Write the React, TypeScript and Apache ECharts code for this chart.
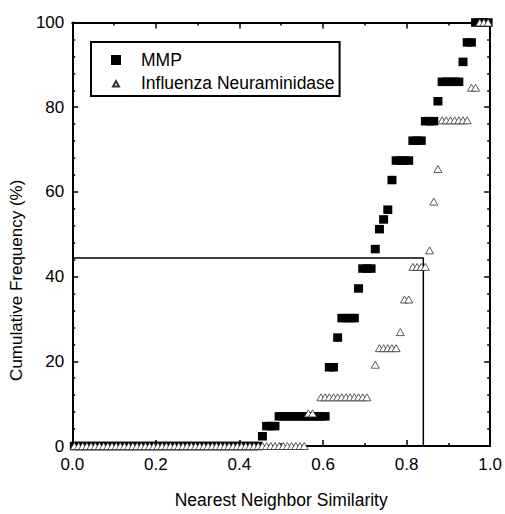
import { useEffect, useRef } from "react";
import * as echarts from "echarts";

// Bin centres of nearest-neighbour similarity (x)
const similarity = [
  0.005, 0.015, 0.025, 0.035, 0.045, 0.055, 0.065, 0.075, 0.085, 0.095,
  0.105, 0.115, 0.125, 0.135, 0.145, 0.155, 0.165, 0.175, 0.185, 0.195,
  0.205, 0.215, 0.225, 0.235, 0.245, 0.255, 0.265, 0.275, 0.285, 0.295,
  0.305, 0.315, 0.325, 0.335, 0.345, 0.355, 0.365, 0.375, 0.385, 0.395,
  0.405, 0.415, 0.425, 0.435, 0.445, 0.455, 0.465, 0.475, 0.485, 0.495,
  0.505, 0.515, 0.525, 0.535, 0.545, 0.555, 0.565, 0.575, 0.585, 0.595,
  0.605, 0.615, 0.625, 0.635, 0.645, 0.655, 0.665, 0.675, 0.685, 0.695,
  0.705, 0.715, 0.725, 0.735, 0.745, 0.755, 0.765, 0.775, 0.785, 0.795,
  0.805, 0.815, 0.825, 0.835, 0.845, 0.855, 0.865, 0.875, 0.885, 0.895,
  0.905, 0.915, 0.925, 0.935, 0.945, 0.955, 0.965, 0.975, 0.985, 0.995,
];

// Cumulative frequency (%) – MMP
const mmpFreq = [
  0, 0, 0, 0, 0, 0, 0, 0, 0, 0,
  0, 0, 0, 0, 0, 0, 0, 0, 0, 0,
  0, 0, 0, 0, 0, 0, 0, 0, 0, 0,
  0, 0, 0, 0, 0, 0, 0, 0, 0, 0,
  0, 0, 0, 0, 0, 2.3, 4.7, 4.7, 4.7, 7.0,
  7.0, 7.0, 7.0, 7.0, 7.0, 7.0, 7.0, 7.0, 7.0, 7.0,
  7.0, 18.6, 18.6, 25.6, 30.2, 30.2, 30.2, 30.2, 37.2, 41.9,
  41.9, 41.9, 46.5, 51.2, 53.5, 55.8, 62.8, 67.4, 67.4, 67.4,
  67.4, 72.1, 72.1, 72.1, 76.7, 76.7, 76.7, 81.4, 86.0, 86.0,
  86.0, 86.0, 86.0, 90.7, 95.3, 95.3, 100, 100, 100, 100,
];

// Cumulative frequency (%) – Influenza Neuraminidase (null = no point)
const fluFreq = [
  0, 0, 0, 0, 0, 0, 0, 0, 0, 0,
  0, 0, 0, 0, 0, 0, 0, 0, 0, 0,
  0, 0, 0, 0, 0, 0, 0, 0, 0, 0,
  0, 0, 0, 0, 0, 0, 0, 0, 0, 0,
  0, 0, 0, 0, 0, 0, 0, 0, 0, 0,
  0, 0, 0, 0, 0, 0, 7.7, 7.7, null, 11.5,
  11.5, 11.5, 11.5, 11.5, 11.5, 11.5, 11.5, 11.5, 11.5, 11.5,
  11.5, null, 19.2, 23.1, 23.1, 23.1, 23.1, 23.1, 26.9, 34.6,
  34.6, 42.3, 42.3, 42.3, 42.3, 46.2, 57.7, 65.4, 76.9, 76.9,
  76.9, 76.9, 76.9, 76.9, 76.9, 84.6, 84.6, 100, 100, 100,
];

// Cut-off annotation (box drawn from the origin)
const cutoffSimilarity = 0.84;
const cutoffFreq = 44.4;

const seriesNames = ["MMP", "Influenza Neuraminidase"];
const xTicks = { min: 0, max: 1, interval: 0.2 };
const yTicks = { min: 0, max: 100, interval: 20 };

export default function App() {
  const ref = useRef<HTMLDivElement>(null);

  useEffect(() => {
    const chart = echarts.init(ref.current!, null, { renderer: "svg" });
    const font = "'Liberation Sans', Arial, Helvetica, sans-serif";

    const toPairs = (ys: (number | null)[]) =>
      similarity
        .map((x, i) => [x, ys[i]])
        .filter((p) => p[1] !== null && p[1] !== undefined);

    const lineStyle = { color: "#000", width: 2 };
    const tick = { show: true, inside: true, length: 6, lineStyle: { color: "#000", width: 1.5 } };
    const xMinor = { show: true, splitNumber: 2, length: 3, lineStyle: { color: "#000", width: 1.5 } };
    const yMinor = { show: true, splitNumber: 5, length: 3, lineStyle: { color: "#000", width: 1.5 } };
    const label = { fontSize: 17, color: "#000", fontFamily: font };

    chart.setOption({
      animation: false,
      backgroundColor: "#fff",
      textStyle: { fontFamily: font },
      grid: { left: 68, right: 14, top: 22.5, bottom: 63, containLabel: false },
      legend: {
        data: [
          { name: seriesNames[0], icon: "rect" },
          { name: seriesNames[1], icon: "path://M0,0M10,10M2,8.5L5,3L8,8.5Z" },
        ],
        orient: "vertical",
        left: 91,
        top: 42,
        itemWidth: 10,
        itemHeight: 10,
        itemGap: 5,
        padding: [9, 5, 4, 19],
        borderColor: "#000",
        borderWidth: 2,
        selectedMode: false,
        textStyle: { fontSize: 17.5, color: "#000", fontFamily: font, padding: [0, 0, 0, 15] },
      },
      xAxis: [
        {
          type: "value",
          ...xTicks,
          position: "bottom",
          name: "Nearest Neighbor Similarity",
          nameLocation: "middle",
          nameGap: 45,
          nameTextStyle: { fontSize: 17.5, color: "#000", fontFamily: font },
          axisLine: { show: true, onZero: false, lineStyle },
          axisTick: tick,
          minorTick: xMinor,
          splitLine: { show: false },
          axisLabel: { ...label, margin: 10, formatter: (v: number) => v.toFixed(1) },
        },
        {
          type: "value",
          ...xTicks,
          position: "top",
          axisLine: { show: true, onZero: false, lineStyle },
          axisTick: tick,
          minorTick: xMinor,
          splitLine: { show: false },
          axisLabel: { show: false },
        },
      ],
      yAxis: [
        {
          type: "value",
          ...yTicks,
          position: "left",
          name: "Cumulative Frequency (%)",
          nameLocation: "middle",
          nameGap: 42,
          nameTextStyle: { fontSize: 17, color: "#000", fontFamily: font, padding: [0, 92, 0, 0] },
          axisLine: { show: true, onZero: false, lineStyle },
          axisTick: tick,
          minorTick: yMinor,
          splitLine: { show: false },
          axisLabel: { ...label, margin: 8 },
        },
        {
          type: "value",
          ...yTicks,
          position: "right",
          axisLine: { show: true, onZero: false, lineStyle },
          axisTick: tick,
          minorTick: yMinor,
          splitLine: { show: false },
          axisLabel: { show: false },
        },
      ],
      series: [
        {
          type: "line",
          data: [
            [0, cutoffFreq],
            [cutoffSimilarity, cutoffFreq],
            [cutoffSimilarity, 0],
          ],
          symbol: "none",
          silent: true,
          lineStyle: { color: "#000", width: 1.5 },
          z: 1,
        },
        {
          name: seriesNames[0],
          type: "scatter",
          data: toPairs(mmpFreq),
          symbol: "rect",
          symbolSize: [9, 8.5],
          clip: false,
          itemStyle: { color: "#000", opacity: 1 },
          z: 2,
        },
        {
          name: seriesNames[1],
          type: "scatter",
          data: toPairs(fluFreq),
          symbol: "triangle",
          symbolSize: [8, 7],
          clip: false,
          itemStyle: { color: "#fff", borderColor: "#333", borderWidth: 0.8, opacity: 1 },
          z: 3,
        },
      ],
    });

    return () => chart.dispose();
  }, []);

  return (
    <div
      ref={ref}
      style={{ position: "fixed", left: 0, top: 0, width: 505, height: 514, background: "#fff" }}
    />
  );
}
